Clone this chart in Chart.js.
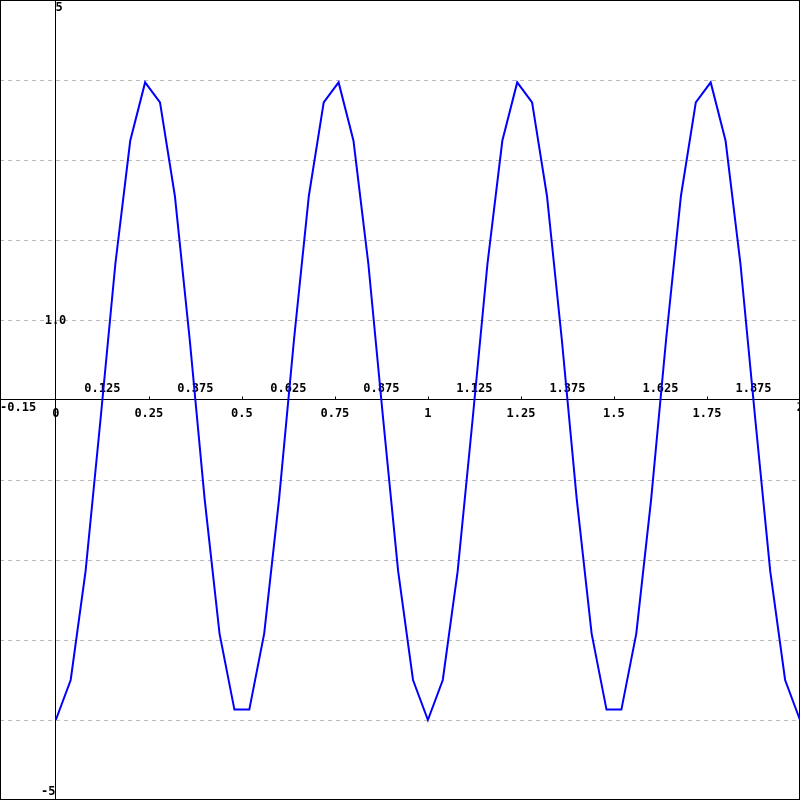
<!DOCTYPE html>
<html>
<head>
<meta charset="utf-8">
<script src="https://cdn.jsdelivr.net/npm/chart.js@4/dist/chart.umd.min.js"></script>
<style>
  html, body { margin: 0; padding: 0; background: #fff; }
  #wrap { width: 800px; height: 800px; }
</style>
</head>
<body>
<div id="wrap"><canvas id="plot" width="800" height="800"></canvas></div>
<script>
var xValues = [0, 0.04, 0.08, 0.12, 0.16, 0.2, 0.24, 0.28, 0.32, 0.36,
  0.4, 0.44, 0.48, 0.52, 0.56, 0.6, 0.64, 0.68, 0.72, 0.76,
  0.8, 0.84, 0.88, 0.92, 0.96, 1, 1.04, 1.08, 1.12, 1.16,
  1.2, 1.24, 1.28, 1.32, 1.36, 1.4, 1.44, 1.48, 1.52, 1.56,
  1.6, 1.64, 1.68, 1.72, 1.76, 1.8, 1.84, 1.88, 1.92, 1.96, 2];
var yValues = [-4, -3.5, -2.14, -0.25, 1.7, 3.24, 3.97, 3.72, 2.55, 0.75,
  -1.24, -2.92, -3.87, -3.87, -2.92, -1.24, 0.75, 2.55, 3.72, 3.97,
  3.24, 1.7, -0.25, -2.14, -3.5, -4, -3.5, -2.14, -0.25, 1.7,
  3.24, 3.97, 3.72, 2.55, 0.75, -1.24, -2.92, -3.87, -3.87, -2.92,
  -1.24, 0.75, 2.55, 3.72, 3.97, 3.24, 1.7, -0.25, -2.14, -3.5, -4];

var xMin = -0.15, xMax = 2;
var yMin = -5, yMax = 5;
var xTickValues = [0.25, 0.5, 0.75, 1, 1.25, 1.5, 1.75];
var xTickLabels = ['0', '0.25', '0.5', '0.75', '1', '1.25', '1.5', '1.75'];
var xLabelValues = [0, 0.25, 0.5, 0.75, 1, 1.25, 1.5, 1.75];
var xHalfValues = [0.125, 0.375, 0.625, 0.875, 1.125, 1.375, 1.625, 1.875];
var xHalfLabels = ['0.125', '0.375', '0.625', '0.875', '1.125', '1.375', '1.625', '1.875'];
var yGridValues = [4, 3, 2, 1, -1, -2, -3, -4];

var points = xValues.map(function(x, i) { return {x: x, y: yValues[i]}; });

var font = 'bold 12px "DejaVu Sans Mono", monospace';

var axesPlugin = {
  id: 'axesPlugin',
  beforeDatasetsDraw: function(chart) {
    var ctx = chart.ctx;
    var sx = chart.scales.x, sy = chart.scales.y;
    var x0 = Math.floor(sx.getPixelForValue(0)) + 0.5;
    var y0 = Math.round(sy.getPixelForValue(0)) - 0.5;
    ctx.save();
    // dashed grid
    ctx.strokeStyle = '#bbbbbb';
    ctx.lineWidth = 1;
    ctx.setLineDash([4, 4]);
    yGridValues.forEach(function(v) {
      var py = Math.round(sy.getPixelForValue(v)) + 0.5;
      ctx.beginPath();
      ctx.moveTo(0, py);
      ctx.lineTo(800, py);
      ctx.stroke();
    });
    ctx.setLineDash([]);
    // axes
    ctx.strokeStyle = '#000';
    ctx.beginPath();
    ctx.moveTo(x0, 0); ctx.lineTo(x0, 800);
    ctx.moveTo(0, y0); ctx.lineTo(800, y0);
    ctx.stroke();
    // ticks
    xTickValues.forEach(function(v) {
      var px = Math.round(sx.getPixelForValue(v)) + 0.5;
      ctx.beginPath();
      ctx.moveTo(px, y0 - 3); ctx.lineTo(px, y0);
      ctx.stroke();
    });
    // frame
    ctx.strokeRect(0.5, 0.5, 799, 799);
    // labels
    ctx.fillStyle = '#000';
    ctx.font = font;
    ctx.textBaseline = 'middle';
    ctx.textAlign = 'center';
    xLabelValues.forEach(function(v, i) {
      ctx.fillText(xTickLabels[i], sx.getPixelForValue(v), y0 + 14);
    });
    xHalfValues.forEach(function(v, i) {
      ctx.fillText(xHalfLabels[i], sx.getPixelForValue(v), y0 - 11);
    });
    ctx.fillText('1.0', x0, sy.getPixelForValue(1) + 1);
    ctx.textAlign = 'left';
    ctx.fillText(String(xMin), 0, y0 + 8);
    ctx.fillText(String(yMax), x0, 8);
    ctx.textAlign = 'right';
    ctx.fillText(String(xMax), 804, y0 + 8);
    ctx.fillText(String(yMin), x0, 792);
    ctx.restore();
  }
};

var chart = new Chart(document.getElementById('plot'), {
  type: 'line',
  data: {
    datasets: [{
      data: points,
      borderColor: '#0000ff',
      borderWidth: 2,
      pointRadius: 0,
      fill: false,
      tension: 0
    }]
  },
  options: {
    responsive: false,
    animation: false,
    layout: { padding: 0, autoPadding: false },
    plugins: { legend: { display: false }, tooltip: { enabled: false } },
    scales: {
      x: { type: 'linear', min: xMin, max: xMax, display: false },
      y: { type: 'linear', min: yMin, max: yMax, display: false }
    }
  },
  plugins: [axesPlugin]
});
</script>
</body>
</html>
